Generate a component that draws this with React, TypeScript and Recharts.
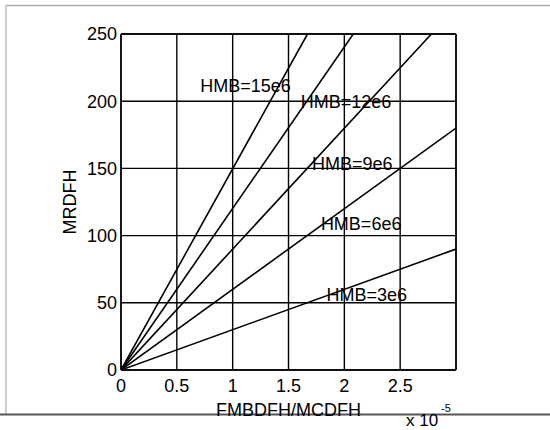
import React from 'react'
import { LineChart, Line, XAxis, YAxis, CartesianGrid, ReferenceLine, ReferenceDot } from 'recharts'

// x values are in units of 1e-5
const xTicks = [0, 0.5, 1, 1.5, 2, 2.5]
const yTicks = [0, 50, 100, 150, 200, 250]

const hmb3 = [{ x: 0, y: 0 }, { x: 3, y: 90 }]
const hmb6 = [{ x: 0, y: 0 }, { x: 3, y: 180 }]
const hmb9 = [{ x: 0, y: 0 }, { x: 2.78, y: 250 }]
const hmb12 = [{ x: 0, y: 0 }, { x: 2.08, y: 250 }]
const hmb15 = [{ x: 0, y: 0 }, { x: 1.67, y: 250 }]

const labelNames = ['HMB=15e6', 'HMB=12e6', 'HMB=9e6', 'HMB=6e6', 'HMB=3e6']
const labelX = [0.71, 1.61, 1.71, 1.79, 1.84]
const labelY = [212, 200, 154, 109, 56]

const series = [hmb3, hmb6, hmb9, hmb12, hmb15]
const font = '"Liberation Sans", Arial, sans-serif'
const ink = '#000'

const App = () => {
  return (
    <div style={{ position: 'absolute', left: 0, top: 0, width: 550, height: 430, background: '#fff' }}>
      <svg width={550} height={430} style={{ position: 'absolute', left: 0, top: 0 }}>
        <line x1={6} y1={5} x2={6} y2={414} stroke="#999" strokeWidth={1} />
        <line x1={6} y1={5.5} x2={550} y2={5.5} stroke="#aaa" strokeWidth={1.5} />
        <line x1={0} y1={414.5} x2={550} y2={414.5} stroke="#555" strokeWidth={2} />
        <text x={406} y={426} fontFamily={font} fontSize={17} fill={ink}>x 10</text>
        <text x={441} y={412} fontFamily={font} fontSize={11} fill={ink}>-5</text>
      </svg>
      <LineChart
        width={550}
        height={430}
        margin={{ top: 34, right: 94, left: 61, bottom: 20 }}
        style={{ position: 'absolute', left: 0, top: 0, fontFamily: font }}
      >
        <CartesianGrid stroke={ink} strokeWidth={1.4} />
        <XAxis
          type="number"
          dataKey="x"
          domain={[0, 3]}
          ticks={xTicks}
          height={40}
          allowDataOverflow
          axisLine={{ stroke: ink, strokeWidth: 1.4 }}
          tickLine={false}
          tickSize={6}
          tickMargin={3}
          tick={{ fill: ink, fontSize: 18 }}
          label={{ value: 'FMBDFH/MCDFH', position: 'insideBottom', offset: -6, fill: ink, fontSize: 18 }}
        />
        <YAxis
          type="number"
          dataKey="y"
          domain={[0, 250]}
          ticks={yTicks}
          width={60}
          allowDataOverflow
          axisLine={{ stroke: ink, strokeWidth: 1.4 }}
          tickLine={false}
          tickSize={2}
          tickMargin={2}
          tick={{ fill: ink, fontSize: 18 }}
          label={{ value: 'MRDFH', angle: -90, position: 'insideLeft', offset: 9, fill: ink, fontSize: 18, style: { textAnchor: 'middle' } }}
        />
        <ReferenceLine x={3} stroke={ink} strokeWidth={1.4} />
        <ReferenceLine y={250} stroke={ink} strokeWidth={1.4} />
        {series.map((d, i) => (
          <Line
            key={i}
            data={d}
            dataKey="y"
            stroke={ink}
            strokeWidth={1.6}
            dot={false}
            isAnimationActive={false}
          />
        ))}
        {labelNames.map((name, i) => (
          <ReferenceDot
            key={name}
            x={labelX[i]}
            y={labelY[i]}
            r={1}
            shape={(p: any) => (
              <text x={p.cx} y={p.cy} dy="0.36em" fontFamily={font} fontSize={18} fill={ink}>
                {name}
              </text>
            )}
          />
        ))}
      </LineChart>
    </div>
  )
}

export default App
